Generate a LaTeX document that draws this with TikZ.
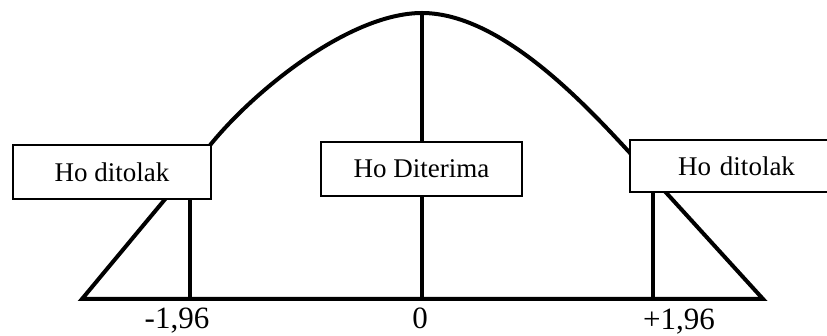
\documentclass[tikz,border=0pt]{standalone}
\usepackage{fontspec}
\setmainfont{Liberation Serif}
\begin{document}
\begin{tikzpicture}[x=1pt,y=-1pt,
  outline/.style={line width=4pt,line join=miter},
  boxstyle/.style={draw,fill=white,line width=2.2pt,inner sep=0pt,
    minimum height=54pt,font=\fontsize{27}{30}\selectfont},
  numlabel/.style={anchor=base,inner sep=0pt,font=\fontsize{31}{34}\selectfont}]
\clip (0,0) rectangle (827,336);
\fill[white] (0,0) rectangle (827,336);
% coordinates
\coordinate (bl) at (82,299);
\coordinate (br) at (763,299);
\coordinate (lc) at (211,144);
\coordinate (rc) at (630,153);
\coordinate (peak) at (422,13);
\coordinate (zbase) at (422,299);
\coordinate (lbase) at (190,299);
\coordinate (rbase) at (653,299);
% bell outline
\draw[outline] (bl) -- (lc) .. controls (255,90) and (350,13) .. (peak)
  .. controls (500,13) and (584,103) .. (rc) -- (br) -- cycle;
% centre line
\draw[outline] (peak) -- (zbase);
% boxes
\node[boxstyle,minimum width=198pt] (lbox) at (112,172) {Ho ditolak};
\node[boxstyle,minimum width=201pt] (cbox) at (421.5,169) {Ho Diterima};
\node[boxstyle,minimum width=210pt,minimum height=52pt,text width=190pt,align=left] (rbox) at (735,166) {\hspace{38pt}Ho ditolak};
% critical lines
\draw[outline] (lbox.south -| lbase) -- (lbase);
\draw[outline] (rbox.south -| rbase) -- (rbase);
% labels
\node[numlabel] (lm) at (177,329) {-1,96};
\node[numlabel] (lz) at (420,329) {0};
\node[numlabel] (lp) at (679,330) {+1,96};
\end{tikzpicture}
\end{document}
